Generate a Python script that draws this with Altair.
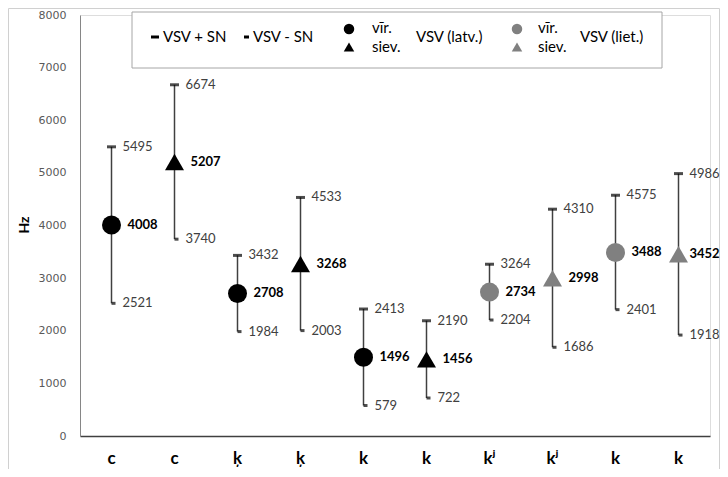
import json
import altair as alt
import pandas as pd

# ---- data ----
categories = ["c", "c", "ķ", "ķ", "k", "k", "kʲ", "kʲ", "k", "k"]
means = [4008, 5207, 2708, 3268, 1496, 1456, 2734, 2998, 3488, 3452]
upper = [5495, 6674, 3432, 4533, 2413, 2190, 3264, 4310, 4575, 4986]
lower = [2521, 3740, 1984, 2003, 579, 722, 2204, 1686, 2401, 1918]
shapes = ["circle", "triangle-up"] * 5
groups = ["latv."] * 6 + ["liet."] * 4

df = pd.DataFrame({
    "idx": list(range(len(categories))),
    "mean": means,
    "upper": upper,
    "lower": lower,
    "shape": shapes,
    "group": groups,
})

FONT = "Lato"
W, H = 630, 421
LAST = len(categories) - 1

label_expr = json.dumps(categories) + "[datum.value]"

x = alt.X("idx:O", scale=alt.Scale(paddingInner=0, paddingOuter=0),
          axis=alt.Axis(title=None, labelExpr=label_expr, labelAngle=0,
                        labelFont=FONT, labelFontSize=17, labelFontWeight="bold",
                        labelColor="#000000", labelPadding=14, ticks=False,
                        domainColor="#404040", domainWidth=1.5))
y_scale = alt.Scale(domain=[0, 8000], nice=False)
y_axis = alt.Axis(title=None, values=list(range(0, 8001, 1000)), format="d",
                  grid=False, ticks=False, tickSize=0, labelPadding=14,
                  labelFont="DejaVu Sans", labelFontSize=11, labelColor="#595959",
                  domainColor="#868686", domainWidth=1)

base = alt.Chart(df)

rules = base.mark_rule(color="#404040", strokeWidth=1.5).encode(
    x=x, y=alt.Y("lower:Q", scale=y_scale, axis=y_axis), y2="upper:Q")

caps_up = base.mark_tick(color="#000000", thickness=3, size=9).encode(
    x=x, y=alt.Y("upper:Q", scale=y_scale))
caps_low = base.mark_tick(color="#000000", thickness=3, size=4, xOffset=2).encode(
    x=x, y=alt.Y("lower:Q", scale=y_scale))

points = base.mark_point(filled=True, size=361, opacity=1).encode(
    x=x, y=alt.Y("mean:Q", scale=y_scale),
    shape=alt.Shape("shape:N", scale=None),
    color=alt.Color("group:N", scale=alt.Scale(domain=["latv.", "liet."],
                                               range=["#000000", "#808080"]),
                    legend=None))

txt_up = base.mark_text(align="left", baseline="middle", dx=11, font=FONT,
                        fontSize=13, color="#404040").encode(
    x=x, y=alt.Y("upper:Q", scale=y_scale), text="upper:Q")
txt_low = base.mark_text(align="left", baseline="middle", dx=11, font=FONT,
                         fontSize=13, color="#404040").encode(
    x=x, y=alt.Y("lower:Q", scale=y_scale), text="lower:Q")
txt_mean = base.mark_text(align="left", baseline="middle", dx=16, font=FONT,
                          fontSize=13, fontWeight="bold", color="#000000").encode(
    x=x, y=alt.Y("mean:Q", scale=y_scale), text="mean:Q"
).transform_filter(alt.datum.idx < LAST)
txt_mean_last = base.mark_text(align="left", baseline="middle", dx=11, font=FONT,
                               fontSize=13, fontWeight="bold", color="#000000").encode(
    x=x, y=alt.Y("mean:Q", scale=y_scale), text="mean:Q"
).transform_filter(alt.datum.idx == LAST)

# ---- decorations (pixel-positioned, not data) ----
one = alt.Chart(pd.DataFrame({"a": [0]}))

frame = one.mark_rect(fill=None, stroke="#d0d0d0", strokeWidth=1).encode(
    x=alt.value(-71.5), x2=alt.value(639.5), y=alt.value(-6.5), y2=alt.value(470))

legend_box = one.mark_rect(fill="#ffffff", stroke="#a6a6a6", strokeWidth=1).encode(
    x=alt.value(52), x2=alt.value(582), y=alt.value(-3), y2=alt.value(53))


def ltext(s, px, py, color="#000000"):
    return one.mark_text(align="left", baseline="middle", font=FONT, fontSize=15,
                         color=color, text=s).encode(x=alt.value(px), y=alt.value(py))


def lsym(shape, px, py, color):
    return one.mark_point(filled=True, opacity=1, shape=shape, size=110,
                          color=color).encode(x=alt.value(px), y=alt.value(py))


dash1 = one.mark_rule(color="#000000", strokeWidth=3).encode(
    x=alt.value(71), x2=alt.value(79), y=alt.value(22))
dash2 = one.mark_rule(color="#000000", strokeWidth=3).encode(
    x=alt.value(164), x2=alt.value(169), y=alt.value(22))

legend_layers = [
    legend_box, dash1, dash2,
    ltext("VSV + SN", 83, 22), ltext("VSV - SN", 173, 22),
    lsym("circle", 269, 14, "#000000"), lsym("triangle-up", 269, 32, "#000000"),
    ltext("vīr.", 292, 13), ltext("siev.", 292, 32), ltext("VSV (latv.)", 336, 22),
    lsym("circle", 437, 14, "#808080"), lsym("triangle-up", 437, 32, "#808080"),
    ltext("vīr.", 458, 13), ltext("siev.", 458, 32), ltext("VSV (liet.)", 500, 22),
]

hz = one.mark_text(text="Hz", angle=270, font=FONT, fontSize=14, fontWeight="bold",
                   color="#000000", align="center", baseline="middle").encode(
    x=alt.value(-55), y=alt.value(210))

chart = alt.layer(
    frame, rules, caps_up, caps_low, points, txt_up, txt_low, txt_mean, txt_mean_last,
    *legend_layers, hz
).properties(
    width=W, height=H,
    autosize=alt.AutoSizeParams(type="none"),
    padding={"left": 72, "top": 7, "right": 10, "bottom": 33},
).configure_view(stroke=None).configure(background="#ffffff")

chart.save("out.html", embed_options={"renderer": "svg", "actions": False})
